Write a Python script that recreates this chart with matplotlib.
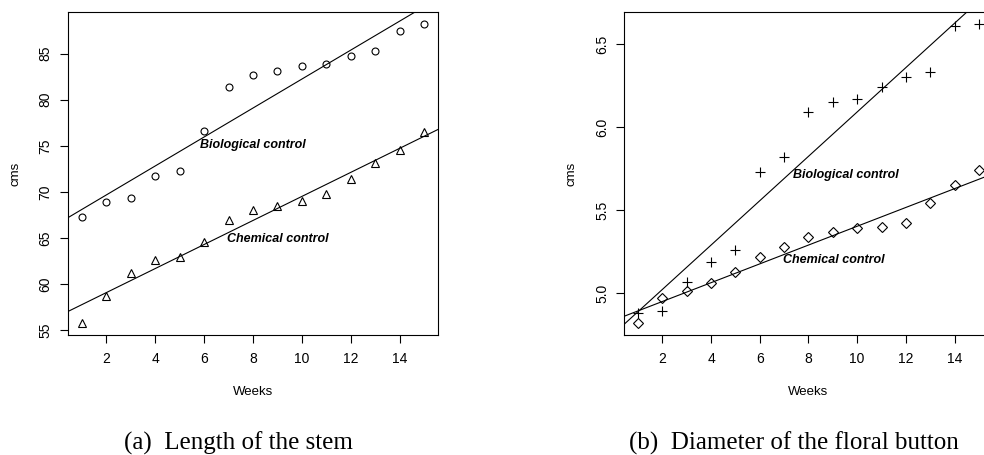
import numpy as np
import matplotlib
matplotlib.use("Agg")
import matplotlib.pyplot as plt

plt.rcParams['font.family'] = ['Liberation Sans', 'DejaVu Sans']

weeks = np.arange(1, 16)

# (a) length of the stem, cms
stem_bio = [67.3, 68.9, 69.3, 71.7, 72.3, 76.6, 81.4, 82.7, 83.1, 83.6, 83.9, 84.7, 85.3, 87.4, 88.2]
stem_chem = [55.8, 58.7, 61.2, 62.6, 63.0, 64.6, 67.0, 68.0, 68.5, 69.0, 69.8, 71.4, 73.1, 74.5, 76.5]

# (b) diameter of the floral button, cms
button_bio = [4.88, 4.89, 5.07, 5.19, 5.26, 5.73, 5.82, 6.09, 6.15, 6.17, 6.24, 6.30, 6.33, 6.61, 6.62]
button_chem = [4.82, 4.97, 5.01, 5.06, 5.13, 5.22, 5.28, 5.34, 5.37, 5.39, 5.40, 5.42, 5.54, 5.65, 5.74]

captions = ["(a)  Length of the stem", "(b)  Diameter of the floral button"]


def r_range(vals):
    lo, hi = min(vals), max(vals)
    d = (hi - lo) * 0.04
    return lo - d, hi + d


def panel(ax, bio, chem, m_bio, m_chem, yticks, yfmt, bio_txt, chem_txt):
    ax.plot(weeks, bio, linestyle='none', marker=m_bio[0], ms=m_bio[1],
            mfc='none', mec='black', mew=0.8)
    ax.plot(weeks, chem, linestyle='none', marker=m_chem[0], ms=m_chem[1],
            mfc='none', mec='black', mew=0.8)
    xlim = r_range(weeks)
    ax.set_xlim(xlim)
    ax.set_ylim(r_range(list(bio) + list(chem)))
    xx = np.array(xlim)
    # least squares lines, like abline(lm(...)) in R
    for y in (bio, chem):
        b, a = np.polyfit(weeks, y, 1)
        ax.plot(xx, a + b * xx, color='black', lw=0.8)
    ax.text(bio_txt[0], bio_txt[1], "Biological control", ha='center', va='center',
            fontsize=9, fontweight='bold', fontstyle='italic')
    ax.text(chem_txt[0], chem_txt[1], "Chemical control", ha='center', va='center',
            fontsize=9, fontweight='bold', fontstyle='italic')
    ax.set_xticks([2, 4, 6, 8, 10, 12, 14])
    ax.set_yticks(yticks)
    ax.set_yticklabels([yfmt.format(v) for v in yticks], rotation=90, va='center')
    ax.tick_params(direction='out', length=6, width=0.8, labelsize=10, pad=6)
    ax.tick_params(axis='y', pad=5)
    ax.set_xlabel("Weeks", fontsize=9.5)
    ax.set_ylabel("cms", fontsize=9.5)
    ax.xaxis.set_label_coords(0.5, -0.158)
    ax.yaxis.set_label_coords(-0.127, 0.5)
    for s in ax.spines.values():
        s.set_linewidth(0.8)


fig = plt.figure(figsize=(9.84, 4.55), dpi=100)
ax1 = fig.add_axes([0.0691, 0.2637, 0.376, 0.7099])
ax2 = fig.add_axes([0.6345, 0.2637, 0.3742, 0.7099])

panel(ax1, stem_bio, stem_chem, ('o', 5), ('^', 6),
      [55, 60, 65, 70, 75, 80, 85], "{:d}", (8, 75.1), (9, 64.9))
panel(ax2, button_bio, button_chem, ('+', 7), ('D', 5),
      [5.0, 5.5, 6.0, 6.5], "{:.1f}", (9.55, 5.71), (9.05, 5.2))

fig.text(0.242, 0.011, captions[0], ha='center', va='baseline',
         fontsize=18, family=['Liberation Serif', 'DejaVu Serif'])
fig.text(0.807, 0.011, captions[1], ha='center', va='baseline',
         fontsize=18, family=['Liberation Serif', 'DejaVu Serif'])

fig.savefig("out.png", dpi=100)
